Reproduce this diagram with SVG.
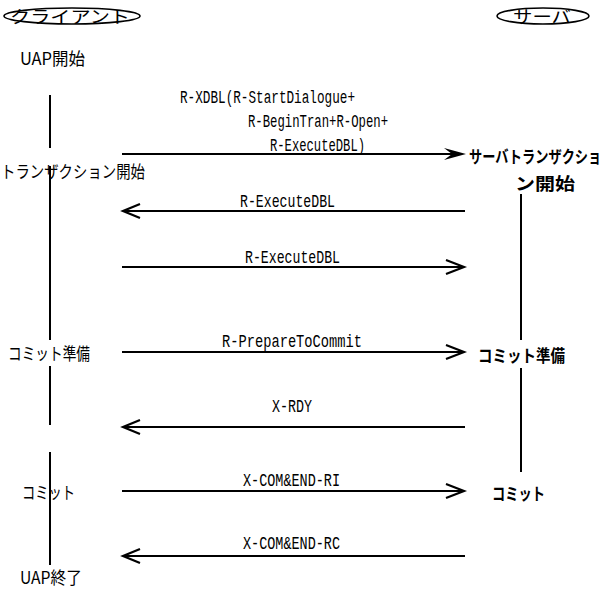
<svg xmlns="http://www.w3.org/2000/svg" width="603" height="591" viewBox="0 0 603 591">
<style>
.bg{fill:#fff}
.ell{fill:none;stroke:#000;stroke-width:1.6}
.life{stroke:#000;stroke-width:2;fill:none}
.msg{stroke:#000;stroke-width:2;fill:none}
.head{stroke:#000;stroke-width:2.2;fill:none;stroke-linejoin:miter}
.lbl{font-family:"Liberation Mono",monospace;font-size:18px;fill:#000}
.jp{font-family:"Noto Sans CJK JP","Noto Sans",sans-serif;font-size:17px;fill:#000}
.jpb{font-family:"Noto Sans CJK JP","Noto Sans",sans-serif;font-size:17px;fill:#000;font-weight:bold}
</style>
<rect class="bg" x="0" y="0" width="603" height="591"/>

<g id="client">
  <ellipse class="ell" cx="72" cy="16" rx="68" ry="8"/>
  <text class="jp" x="10" y="23" textLength="120" lengthAdjust="spacingAndGlyphs">クライアント</text>
</g>
<g id="server">
  <ellipse class="ell" cx="543" cy="16" rx="46" ry="8"/>
  <text class="jp" x="513" y="23" textLength="58" lengthAdjust="spacingAndGlyphs">サーバ</text>
</g>

<g id="client-lifeline">
  <line class="life" x1="50" y1="95" x2="50" y2="148"/>
  <line class="life" x1="50" y1="166" x2="50" y2="340"/>
  <line class="life" x1="50" y1="366" x2="50" y2="425"/>
  <line class="life" x1="50" y1="452" x2="50" y2="565"/>
</g>
<g id="server-lifeline">
  <line class="life" x1="521" y1="194" x2="521" y2="340"/>
  <line class="life" x1="521" y1="368" x2="521" y2="472"/>
</g>

<g id="client-states">
  <text class="jp" x="20" y="65" textLength="65" lengthAdjust="spacingAndGlyphs">UAP開始</text>
  <text class="jp" x="1" y="178" textLength="144" lengthAdjust="spacingAndGlyphs">トランザクション開始</text>
  <text class="jp" x="8" y="360" textLength="82" lengthAdjust="spacingAndGlyphs">コミット準備</text>
  <text class="jp" x="22" y="499" textLength="53" lengthAdjust="spacingAndGlyphs">コミット</text>
  <text class="jp" x="20" y="584" textLength="62" lengthAdjust="spacingAndGlyphs">UAP終了</text>
</g>
<g id="server-states">
  <text class="jpb" transform="translate(469,163) scale(1,1.28)" x="0" y="0" style="font-size:13.2px">サーバトランザクショ</text>
  <text class="jpb" x="515" y="190" textLength="60" lengthAdjust="spacingAndGlyphs">ン開始</text>
  <text class="jpb" x="478" y="362" textLength="87" lengthAdjust="spacingAndGlyphs">コミット準備</text>
  <text class="jpb" x="492" y="500" textLength="53" lengthAdjust="spacingAndGlyphs">コミット</text>
</g>

<g id="connectors">
  <g id="m1">
    <line class="msg" x1="122" y1="154" x2="462" y2="154"/>
    <path d="M444,148 L466,154 L444,160 L452,154 Z" fill="#000"/>
    <text class="lbl" x="180" y="103" textLength="175" lengthAdjust="spacingAndGlyphs">R-XDBL(R-StartDialogue+</text>
    <text class="lbl" x="248" y="127" textLength="140" lengthAdjust="spacingAndGlyphs">R-BeginTran+R-Open+</text>
    <text class="lbl" x="270" y="151" textLength="95" lengthAdjust="spacingAndGlyphs">R-ExecuteDBL)</text>
  </g>
  <g id="m2">
    <line class="msg" x1="465" y1="211" x2="123" y2="211"/>
    <polyline class="head" points="140,204 123,211 140,218"/>
    <text class="lbl" x="240" y="207" textLength="95" lengthAdjust="spacingAndGlyphs">R-ExecuteDBL</text>
  </g>
  <g id="m3">
    <line class="msg" x1="122" y1="267" x2="464" y2="267"/>
    <polyline class="head" points="446,260 464,267 446,274"/>
    <text class="lbl" x="245" y="263" textLength="95" lengthAdjust="spacingAndGlyphs">R-ExecuteDBL</text>
  </g>
  <g id="m4">
    <line class="msg" x1="122" y1="352" x2="464" y2="352"/>
    <polyline class="head" points="446,345 464,352 446,359"/>
    <text class="lbl" x="222" y="347" textLength="140" lengthAdjust="spacingAndGlyphs">R-PrepareToCommit</text>
  </g>
  <g id="m5">
    <line class="msg" x1="465" y1="427" x2="123" y2="427"/>
    <polyline class="head" points="140,420 123,427 140,434"/>
    <text class="lbl" x="272" y="412" textLength="40" lengthAdjust="spacingAndGlyphs">X-RDY</text>
  </g>
  <g id="m6">
    <line class="msg" x1="122" y1="491" x2="464" y2="491"/>
    <polyline class="head" points="446,484 464,491 446,498"/>
    <text class="lbl" x="243" y="486" textLength="97" lengthAdjust="spacingAndGlyphs">X-COM&amp;END-RI</text>
  </g>
  <g id="m7">
    <line class="msg" x1="465" y1="556" x2="123" y2="556"/>
    <polyline class="head" points="140,549 123,556 140,563"/>
    <text class="lbl" x="243" y="549" textLength="97" lengthAdjust="spacingAndGlyphs">X-COM&amp;END-RC</text>
  </g>
</g>
</svg>
